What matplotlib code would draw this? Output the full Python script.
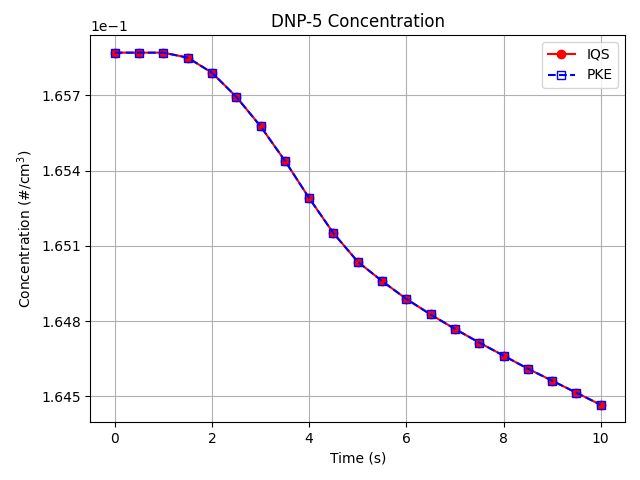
import numpy as np
import matplotlib
matplotlib.use("Agg")
import matplotlib.pyplot as plt
from matplotlib.ticker import FixedLocator

time = [0, 0.5, 1, 1.5, 2, 2.5, 3, 3.5, 4, 4.5, 5, 5.5, 6, 6.5, 7, 7.5, 8, 8.5, 9, 9.5, 10]
iqs = [0.1658708, 0.1658708, 0.1658708, 0.1658508, 0.1657908, 0.1656948, 0.1655772,
       0.1654400, 0.1652908, 0.1651508, 0.1650372, 0.1649600, 0.1648888, 0.1648268,
       0.1647692, 0.1647148, 0.1646628, 0.1646108, 0.1645628, 0.1645148, 0.1644668]
pke = list(iqs)
yticks = [0.1645, 0.1648, 0.1651, 0.1654, 0.1657]

fig, ax = plt.subplots(figsize=(6.4, 4.8), dpi=100)
fig.subplots_adjust(left=0.1414, right=0.9766, top=0.927, bottom=0.120)
ax.plot(time, iqs, 'r-o', label='IQS')
ax.plot(time, pke, 'b--s', markerfacecolor='none', label='PKE')
ax.set_title('DNP-5 Concentration')
ax.set_xlabel('Time (s)')
ax.set_ylabel('Concentration (#/cm$^3$)')
ax.grid(True)
ax.legend(loc='upper right')
ax.yaxis.set_major_locator(FixedLocator(yticks))
ax.ticklabel_format(axis='y', style='sci', scilimits=(0, 0), useOffset=False)
fig.savefig('out.png')
